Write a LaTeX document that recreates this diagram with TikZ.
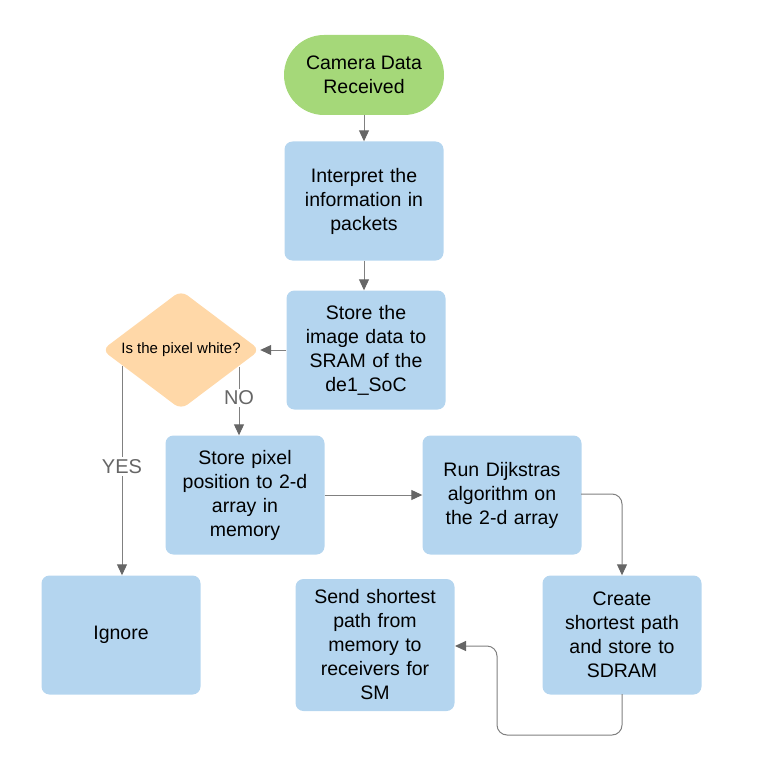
\documentclass[tikz,border=0pt]{standalone}
\usepackage{fontspec}
\setmainfont{Liberation Sans}
\usetikzlibrary{arrows.meta,shapes.geometric,positioning}
\definecolor{boxblue}{HTML}{B4D5EF}
\definecolor{startgreen}{HTML}{A5D879}
\definecolor{decpeach}{HTML}{FFD8A8}
\definecolor{linegray}{HTML}{808080}
\definecolor{tipgray}{HTML}{666666}
\tikzset{
  procbox/.style={fill=boxblue, draw=none, rounded corners=8pt, minimum width=159pt, minimum height=119pt, align=center, font=\fontsize{19.5pt}{24pt}\selectfont, text width=150pt},
  startbox/.style={fill=startgreen, draw=none, rounded corners=40pt, minimum width=160pt, minimum height=80pt, align=center, font=\fontsize{19.5pt}{24pt}\selectfont},
  decbox/.style={fill=decpeach, draw=none, diamond, aspect=1.33, minimum width=158pt, minimum height=119pt, inner sep=0pt, rounded corners=8pt, font=\fontsize{15pt}{18pt}\selectfont},
  conn/.style={draw=linegray, line width=1pt, -{Triangle[length=11pt,width=10pt,color=tipgray]}},
  lbl/.style={text=tipgray, fill=white, font=\fontsize{20pt}{22pt}\selectfont, inner sep=2pt}
}
\begin{document}
\begin{tikzpicture}[x=1pt,y=-1pt]
\useasboundingbox (0,0) rectangle (761,770);
\node[startbox] (start) at (364,75) {Camera Data\\Received};
\node[procbox] (interp) at (364,201) {Interpret the\\information in\\packets};
\node[procbox] (store) at (366,350) {Store the\\image data to\\SRAM of the\\de1\_SoC};
\node[decbox] (dec) at (181,350) {Is the pixel white?};
\node[procbox] (pos) at (245,495) {Store pixel\\position to 2-d\\array in\\memory};
\node[procbox] (dijk) at (502,495) {Run Dijkstras\\algorithm on\\the 2-d array};
\node[procbox] (ignore) at (121,635) {Ignore};
\node[procbox, minimum height=132pt] (send) at (375,645) {Send shortest\\path from\\memory to\\receivers for\\SM};
\node[procbox] (create) at (622,635) {Create\\shortest path\\and store to\\SDRAM};

\coordinate (noS) at (239,367);
\coordinate (yesS) at (122,366);
\coordinate (dijkR) at (581,494);
\coordinate (createB) at (622,694);
\coordinate (sendR) at (455,646);

\draw[conn] (start.south) -- (interp.north);
\draw[conn] (interp.south) -- (interp.south |- store.north);
\draw[conn] (store.west) -- (dec.east);
\draw[conn] (noS) -- node[lbl, pos=0.45] {NO} (noS |- pos.north);
\draw[conn] (yesS) -- node[lbl, pos=0.48] {YES} (yesS |- ignore.north);
\draw[conn] (pos.east) -- (dijk.west);
\draw[conn, rounded corners=10pt] (dijkR) -- (create.north |- dijkR) -- (create.north);
\draw[conn, rounded corners=10pt] (createB) -- (622,735) -- (497,735) -- (497,646) -- (sendR);
\end{tikzpicture}
\end{document}
